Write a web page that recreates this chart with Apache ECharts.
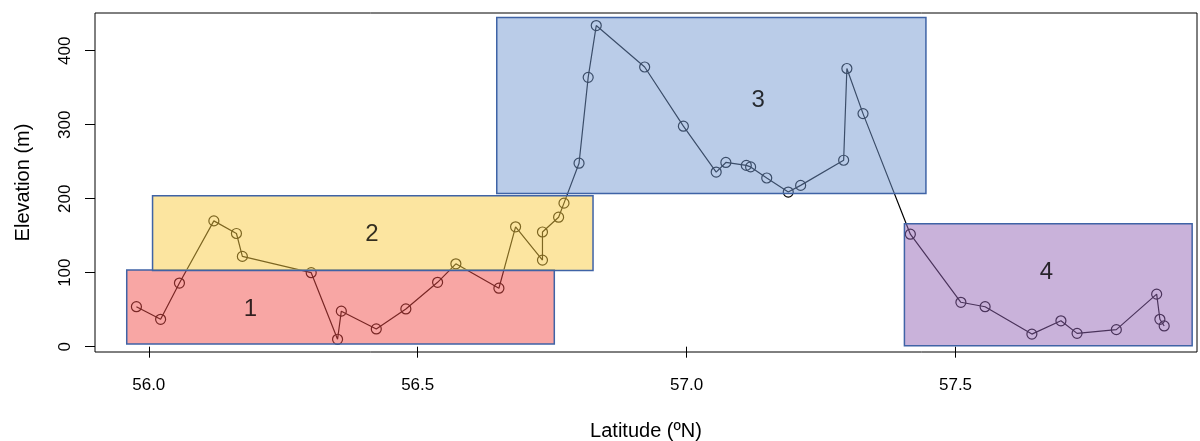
<!DOCTYPE html>
<html>
<head>
<meta charset="utf-8">
<script src="https://cdn.jsdelivr.net/npm/echarts@6/dist/echarts.min.js"></script>
<style>
  html, body { margin: 0; padding: 0; background: #fff; }
  #chart { width: 1200px; height: 441px; }
</style>
</head>
<body>
<div id="chart"></div>
<script>
// transect points, in order along the track
var latitude = [55.977, 56.022, 56.057, 56.121, 56.163, 56.174, 56.302, 56.351, 56.358, 56.423,
  56.478, 56.537, 56.571, 56.651, 56.682, 56.732, 56.732, 56.762, 56.772, 56.800,
  56.817, 56.832, 56.922, 56.994, 57.055, 57.073, 57.111, 57.119, 57.149, 57.189,
  57.212, 57.292, 57.298, 57.328, 57.416, 57.510, 57.555, 57.642, 57.696, 57.726,
  57.799, 57.874, 57.880, 57.888];
var elevation = [54, 37, 86, 170, 153, 122, 100, 10, 48, 24,
  51, 87, 112, 79, 162, 117, 155, 175, 194, 248,
  364, 434, 378, 298, 236, 249, 245, 243, 228, 209,
  218, 252, 376, 315, 152, 60, 54, 17, 35, 18,
  23, 71, 37, 28];

// group boxes
var boxNames = ["1", "2", "3", "4"];
var boxLatMin = [55.959, 56.007, 56.647, 57.405];
var boxLatMax = [56.754, 56.826, 57.445, 57.940];
var boxElevMin = [3.6, 103, 207, 1.4];
var boxElevMax = [103.6, 204, 445, 166];
var boxLabelLat = [56.189, 56.415, 57.133, 57.669];
var boxLabelElev = [51, 152, 333, 101];
var boxColors = ["rgba(241,77,73,0.5)", "rgba(249,203,65,0.5)", "rgba(117,153,209,0.5)", "rgba(147,101,181,0.5)"];

var xTicks = [56.0, 56.5, 57.0, 57.5];
var yTicks = [0, 100, 200, 300, 400];

var myChart = echarts.init(document.getElementById("chart"));

var points = [];
for (var i = 0; i < latitude.length; i++) {
  points.push([latitude[i], elevation[i]]);
}
var boxes = [];
var labels = [];
for (var j = 0; j < boxNames.length; j++) {
  boxes.push([boxLatMin[j], boxLatMax[j], boxElevMin[j], boxElevMax[j], j]);
  labels.push({ value: [boxLabelLat[j], boxLabelElev[j]], name: boxNames[j] });
}

var font = "Liberation Sans";

var option = {
  animation: false,
  grid: {
    left: 95, right: 3, top: 13, bottom: 89,
    outerBoundsMode: "none",
    show: true, borderColor: "#000", borderWidth: 1
  },
  xAxis: {
    type: "value",
    min: 55.90,
    max: 57.949,
    name: "Latitude (\u00BAN)",
    nameLocation: "middle",
    nameGap: 69,
    nameTextStyle: { color: "#000", fontSize: 20, fontFamily: font },
    splitLine: { show: false },
    axisLine: { show: false },
    axisTick: { show: true, inside: false, length: 11, customValues: xTicks, lineStyle: { color: "#000" } },
    axisLabel: {
      customValues: xTicks, margin: 25, color: "#000", fontSize: 17, fontFamily: font,
      formatter: function (v) { return v.toFixed(1); }
    }
  },
  yAxis: {
    type: "value",
    min: -7.2,
    max: 451,
    name: "Elevation (m)",
    nameLocation: "middle",
    nameGap: 62,
    nameRotate: 90,
    nameTextStyle: { color: "#000", fontSize: 20, fontFamily: font },
    splitLine: { show: false },
    axisLine: { show: false },
    axisTick: { show: true, inside: false, length: 10, customValues: yTicks, lineStyle: { color: "#000" } },
    axisLabel: { customValues: yTicks, rotate: 90, margin: 21, color: "#000", fontSize: 17, fontFamily: font }
  },
  series: [
    {
      type: "line",
      data: points,
      z: 2,
      symbol: "circle",
      symbolSize: 10,
      lineStyle: { color: "#000", width: 1.2 },
      itemStyle: { color: "rgba(0,0,0,0)", borderColor: "#000", borderWidth: 1.2 }
    },
    {
      type: "custom",
      z: 3,
      data: boxes,
      renderItem: function (params, api) {
        var p0 = api.coord([api.value(0), api.value(3)]);
        var p1 = api.coord([api.value(1), api.value(2)]);
        return {
          type: "rect",
          shape: { x: p0[0], y: p0[1], width: p1[0] - p0[0], height: p1[1] - p0[1] },
          style: { fill: boxColors[api.value(4)], stroke: "#3F63A6", lineWidth: 1.5 }
        };
      }
    },
    {
      type: "scatter",
      z: 4,
      data: labels,
      symbolSize: 0,
      label: {
        show: true, position: "inside", formatter: "{b}",
        color: "#000", fontSize: 24, fontFamily: font
      }
    }
  ]
};
myChart.setOption(option);
</script>
</body>
</html>
